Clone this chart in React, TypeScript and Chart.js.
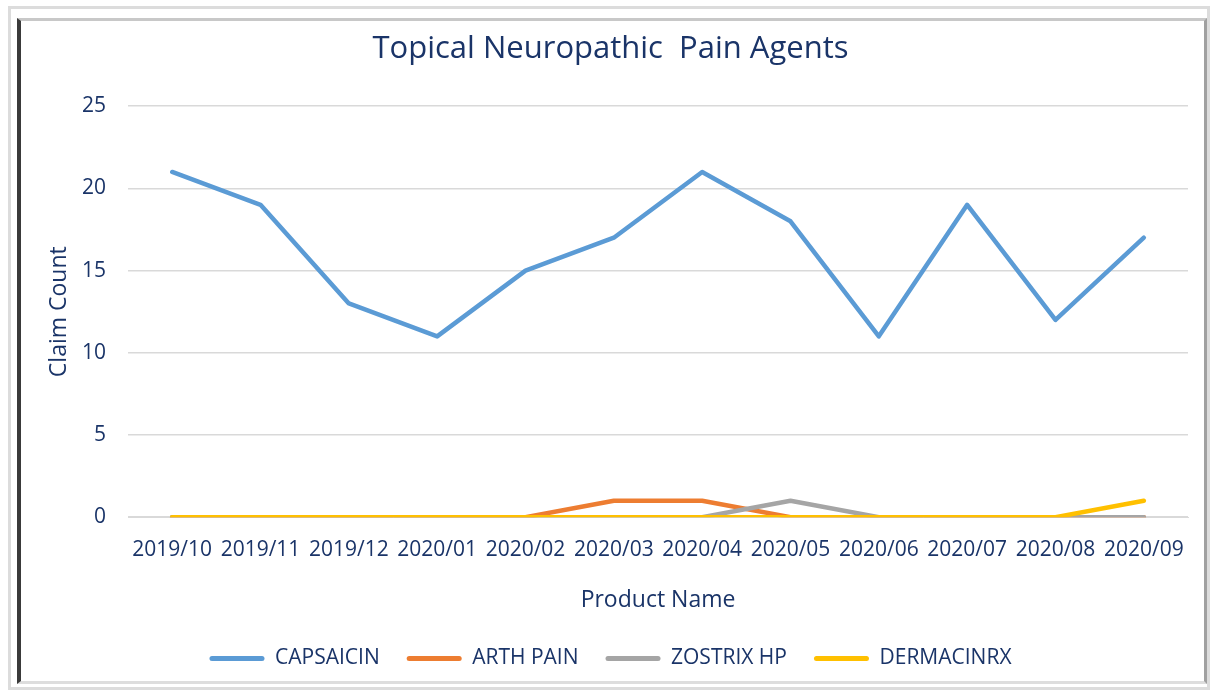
import React, { useEffect, useRef } from "react";
import { Chart, registerables } from "chart.js";

Chart.register(...registerables);

const months = ["2019/10", "2019/11", "2019/12", "2020/01", "2020/02", "2020/03", "2020/04", "2020/05", "2020/06", "2020/07", "2020/08", "2020/09"];
const capsaicin = [21, 19, 13, 11, 15, 17, 21, 18, 11, 19, 12, 17];
const arthPain = [0, 0, 0, 0, 0, 1, 1, 0, 0, 0, 0, 0];
const zostrixHp = [0, 0, 0, 0, 0, 0, 0, 1, 0, 0, 0, 0];
const dermacinrx = [0, 0, 0, 0, 0, 0, 0, 0, 0, 0, 0, 1];
const yTicks = [0, 5, 10, 15, 20, 25];

const TEXT = "#1A3468";
const FONT = "'Open Sans', sans-serif";

export default function App() {
  const ref = useRef<HTMLCanvasElement | null>(null);

  useEffect(() => {
    if (!ref.current) return;
    const mk = (label: string, data: number[], color: string, order: number) => ({
      label,
      data,
      borderColor: color,
      backgroundColor: color,
      borderWidth: 4.5,
      pointRadius: 0,
      tension: 0,
      borderCapStyle: "round" as const,
      borderJoinStyle: "round" as const,
      order,
    });
    const chart = new Chart(ref.current, {
      type: "line",
      data: {
        labels: months,
        datasets: [
          mk("CAPSAICIN", capsaicin, "#5B9BD5", 0),
          mk("ARTH PAIN", arthPain, "#ED7D31", 3),
          mk("ZOSTRIX HP", zostrixHp, "#A5A5A5", 2),
          mk("DERMACINRX", dermacinrx, "#FFC000", 1),
        ],
      },
      options: {
        animation: false,
        responsive: false,
        layout: { padding: { left: 12, right: 16, top: 10, bottom: 2 } },
        plugins: {
          tooltip: { enabled: false },
          title: {
            display: true,
            text: "Topical Neuropathic  Pain Agents",
            color: TEXT,
            font: { family: FONT, size: 31, weight: "normal" },
            padding: { top: 0, bottom: 38 },
          },
          legend: {
            position: "bottom",
            labels: {
              color: TEXT,
              font: { family: FONT, size: 21 },
              boxWidth: 55,
              boxHeight: 5,
              padding: 27,
              useBorderRadius: true,
              borderRadius: 2.5,
              generateLabels: (c: any) => {
                const items = Chart.defaults.plugins.legend.labels.generateLabels(c);
                return items
                  .map((it: any) => ({ ...it, lineWidth: 0, strokeStyle: "transparent" }))
                  .sort((a: any, b: any) => a.datasetIndex - b.datasetIndex);
              },
            },
          },
        },
        scales: {
          x: {
            offset: true,
            grid: { display: false },
            border: { display: true, color: "#D9D9D9", width: 1 },
            ticks: { color: TEXT, font: { family: FONT, size: 21 }, maxRotation: 0, autoSkip: false, padding: 12 },
            title: { display: true, text: "Product Name", color: TEXT, font: { family: FONT, size: 23 }, padding: { top: 12, bottom: 7 } },
          },
          y: {
            min: 0,
            max: 25,
            afterBuildTicks: (axis: any) => {
              axis.ticks = yTicks.map((v) => ({ value: v }));
            },
            afterFit: (axis: any) => {
              axis.width = 95;
            },
            grid: { color: "#D9D9D9", lineWidth: 1.5, drawTicks: false },
            border: { display: false },
            ticks: { color: TEXT, font: { family: FONT, size: 21 }, padding: 22 },
            title: { display: true, text: "Claim Count", color: TEXT, font: { family: FONT, size: 23 }, padding: { top: 13, bottom: 0 } },
          },
        },
      },
    });
    return () => chart.destroy();
  }, []);

  return (
    <div style={{ position: "fixed", left: 0, top: 0, width: 1212, height: 694, background: "#fff" }}>
      <div style={{ position: "absolute", left: 8, top: 6, width: 1196, height: 678, border: "3px solid #DCDCDC" }} />
      <div
        style={{
          position: "absolute",
          left: 17,
          top: 18,
          width: 1183,
          height: 660,
          borderLeft: "4px solid #3A3A3A",
          borderTop: "3px solid #C8C8C8",
          borderRight: "3px solid #A0A0A0",
          borderBottom: "3px solid #DDDDDD",
          background: "#fff",
        }}
      >
        <canvas ref={ref} width={1183} height={660} style={{ display: "block" }} />
      </div>
    </div>
  );
}
